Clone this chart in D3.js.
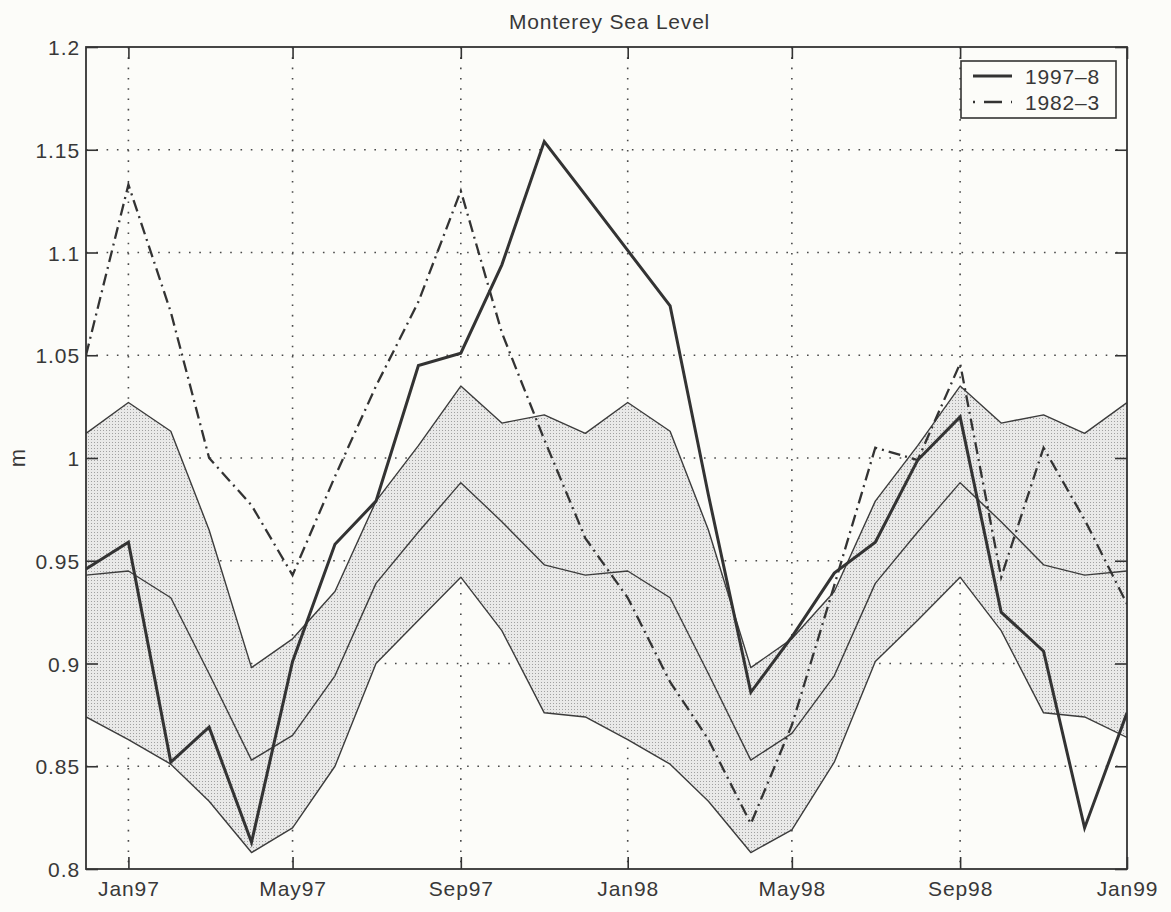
<!DOCTYPE html>
<html>
<head>
<meta charset="utf-8">
<title>Monterey Sea Level</title>
<script src="https://cdn.jsdelivr.net/npm/d3@7"></script>
<style>
  html, body { margin: 0; padding: 0; background: #fcfcf9; }
  svg { display: block; }
  text { font-family: "Liberation Sans", Arial, Helvetica, sans-serif; fill: #383838; }
</style>
</head>
<body>
<svg id="chart" width="1171" height="912"></svg>
<script>
// Monthly sample dates (first of each month)
const months = [
  "1996-12", "1997-01", "1997-02", "1997-03", "1997-04", "1997-05", "1997-06",
  "1997-07", "1997-08", "1997-09", "1997-10", "1997-11", "1997-12",
  "1998-01", "1998-02", "1998-03", "1998-04", "1998-05", "1998-06",
  "1998-07", "1998-08", "1998-09", "1998-10", "1998-11", "1998-12", "1999-01"
];

// Climatological envelope (m): upper bound, mean, lower bound
const climUpper = [
  1.012, 1.027, 1.013, 0.965, 0.898, 0.912, 0.935, 0.979, 1.006, 1.035, 1.017, 1.021, 1.012,
  1.027, 1.013, 0.965, 0.898, 0.912, 0.935, 0.979, 1.006, 1.035, 1.017, 1.021, 1.012, 1.027
];
const climMean = [
  0.943, 0.945, 0.932, 0.895, 0.853, 0.865, 0.894, 0.939, 0.964, 0.988, 0.969, 0.948, 0.943,
  0.945, 0.932, 0.895, 0.853, 0.866, 0.894, 0.939, 0.964, 0.988, 0.969, 0.948, 0.943, 0.945
];
const climLower = [
  0.874, 0.863, 0.851, 0.833, 0.808, 0.820, 0.850, 0.900, 0.921, 0.942, 0.916, 0.876, 0.874,
  0.863, 0.851, 0.833, 0.808, 0.819, 0.852, 0.901, 0.921, 0.942, 0.916, 0.876, 0.874, 0.864
];

// Observed monthly sea level (m)
const level1997 = [
  0.946, 0.959, 0.852, 0.869, 0.813, 0.901, 0.958, 0.979, 1.045, 1.051, 1.094, 1.154, 1.128,
  1.101, 1.074, 0.982, 0.886, 0.913, 0.944, 0.959, 0.999, 1.020, 0.925, 0.906, 0.820, 0.876
];
const level1982 = [
  1.050, 1.133, 1.071, 1.000, 0.977, 0.943, 0.991, 1.035, 1.076, 1.130, 1.061, 1.009, 0.961,
  0.932, 0.891, 0.863, 0.822, 0.870, 0.938, 1.005, 0.999, 1.046, 0.942, 1.005, 0.970, 0.929
];

const seriesNames = ["1997\u20138", "1982\u20133"];

// Axis ticks
const yTicks = [0.8, 0.85, 0.9, 0.95, 1, 1.05, 1.1, 1.15, 1.2];
const yTickLabels = ["0.8", "0.85", "0.9", "0.95", "1", "1.05", "1.1", "1.15", "1.2"];
const xTickMonths = ["1997-01", "1997-05", "1997-09", "1998-01", "1998-05", "1998-09", "1999-01"];
const xTickLabels = ["Jan97", "May97", "Sep97", "Jan98", "May98", "Sep98", "Jan99"];

const parse = d3.utcParse("%Y-%m");
const dates = months.map(parse);
const xTickDates = xTickMonths.map(parse);

const plot = { left: 86, right: 1127, top: 47, bottom: 869 };
const ink = "#333333";
const fontSize = 21;

const svg = d3.select("#chart");

const x = d3.scaleUtc()
  .domain([dates[0], dates[dates.length - 1]])
  .range([plot.left, plot.right]);
const y = d3.scaleLinear()
  .domain([0.8, 1.2])
  .range([plot.bottom, plot.top]);

// Halftone-like stipple for the envelope
const defs = svg.append("defs");
const pat = defs.append("pattern")
  .attr("id", "stipple")
  .attr("patternUnits", "userSpaceOnUse")
  .attr("width", 3).attr("height", 3);
pat.append("rect").attr("width", 3).attr("height", 3).attr("fill", "#e9e9e8");
pat.append("rect").attr("x", 1).attr("y", 1).attr("width", 1).attr("height", 1).attr("fill", "#a0a0a0");

defs.append("clipPath").attr("id", "plotClip")
  .append("rect")
  .attr("x", plot.left).attr("y", plot.top)
  .attr("width", plot.right - plot.left).attr("height", plot.bottom - plot.top);

// Dotted grid
const grid = svg.append("g")
  .attr("stroke", "#4a4a4a")
  .attr("stroke-width", 1.6)
  .attr("stroke-dasharray", "1.6 8.7");
grid.selectAll("line.v")
  .data(xTickDates.filter(d => x(d) > plot.left + 1 && x(d) < plot.right - 1))
  .join("line")
  .attr("class", "v")
  .attr("x1", d => x(d)).attr("x2", d => x(d))
  .attr("y1", plot.top).attr("y2", plot.bottom);
grid.selectAll("line.h")
  .data(yTicks.filter(v => v > 0.8 && v < 1.2))
  .join("line")
  .attr("class", "h")
  .attr("x1", plot.left).attr("x2", plot.right)
  .attr("y1", d => y(d)).attr("y2", d => y(d));

const g = svg.append("g").attr("clip-path", "url(#plotClip)");

// Envelope fill
const area = d3.area()
  .x((d, i) => x(dates[i]))
  .y0((d, i) => y(climLower[i]))
  .y1((d, i) => y(climUpper[i]));
g.append("path")
  .datum(months)
  .attr("d", area)
  .attr("fill", "url(#stipple)");

const line = vals => d3.line()
  .x((d, i) => x(dates[i]))
  .y(d => y(d))(vals);

// Envelope bounds and mean
[climUpper, climMean, climLower].forEach(vals => {
  g.append("path")
    .attr("d", line(vals))
    .attr("fill", "none")
    .attr("stroke", "#3c3c3c")
    .attr("stroke-width", 1.4)
    .attr("stroke-linejoin", "round");
});

// 1982-3 series, dash-dot
g.append("path")
  .attr("d", line(level1982))
  .attr("fill", "none")
  .attr("stroke", ink)
  .attr("stroke-width", 2.3)
  .attr("stroke-dasharray", "12 5 2 5");

// 1997-8 series, heavy solid
g.append("path")
  .attr("d", line(level1997))
  .attr("fill", "none")
  .attr("stroke", ink)
  .attr("stroke-width", 3)
  .attr("stroke-linejoin", "miter");

// Axes with inward ticks on all four sides
const tickLen = 12;
const axB = svg.append("g")
  .attr("transform", `translate(0,${plot.bottom})`)
  .call(d3.axisBottom(x).tickValues(xTickDates)
    .tickFormat((d, i) => xTickLabels[i])
    .tickSizeInner(-tickLen).tickSizeOuter(0).tickPadding(12));
const axT = svg.append("g")
  .attr("transform", `translate(0,${plot.top})`)
  .call(d3.axisTop(x).tickValues(xTickDates).tickFormat("")
    .tickSizeInner(-tickLen).tickSizeOuter(0));
const axL = svg.append("g")
  .attr("transform", `translate(${plot.left},0)`)
  .call(d3.axisLeft(y).tickValues(yTicks)
    .tickFormat((d, i) => yTickLabels[i])
    .tickSizeInner(-tickLen).tickSizeOuter(0).tickPadding(6));
const axR = svg.append("g")
  .attr("transform", `translate(${plot.right},0)`)
  .call(d3.axisRight(y).tickValues(yTicks).tickFormat("")
    .tickSizeInner(-tickLen).tickSizeOuter(0));

[axB, axT, axL, axR].forEach(ax => {
  ax.select(".domain").remove();
  ax.selectAll(".tick line").attr("stroke", ink).attr("stroke-width", 1.6);
  ax.selectAll("text")
    .attr("font-size", fontSize)
    .attr("letter-spacing", "0.9px")
    .attr("fill", "#383838")
    .style("font-family", '"Liberation Sans", Arial, Helvetica, sans-serif');
});
axL.selectAll("text").attr("dy", "0.36em");

// Plot frame
svg.append("rect")
  .attr("x", plot.left).attr("y", plot.top)
  .attr("width", plot.right - plot.left).attr("height", plot.bottom - plot.top)
  .attr("fill", "none").attr("stroke", ink).attr("stroke-width", 1.8);

// Title and y label
svg.append("text")
  .attr("x", (plot.left + plot.right) / 2 + 3)
  .attr("y", 29)
  .attr("text-anchor", "middle")
  .attr("font-size", fontSize)
  .attr("letter-spacing", "0.8px")
  .text("Monterey Sea Level");

svg.append("text")
  .attr("transform", `translate(25,${(plot.top + plot.bottom) / 2}) rotate(-90)`)
  .attr("text-anchor", "middle")
  .attr("font-size", 22)
  .text("m");

// Legend
const legend = svg.append("g");
legend.append("rect")
  .attr("x", 961).attr("y", 61)
  .attr("width", 155).attr("height", 57)
  .attr("fill", "#fcfcf9")
  .attr("stroke", ink).attr("stroke-width", 1.6);
const legendRows = [
  { name: seriesNames[0], width: 3, dash: null, cy: 76 },
  { name: seriesNames[1], width: 2.3, dash: "2 9 18 9 2", cy: 102 }
];
legendRows.forEach(r => {
  const ln = legend.append("line")
    .attr("x1", 973).attr("x2", 1012)
    .attr("y1", r.cy).attr("y2", r.cy)
    .attr("stroke", ink).attr("stroke-width", r.width);
  if (r.dash) ln.attr("stroke-dasharray", r.dash);
  legend.append("text")
    .attr("x", 1025).attr("y", r.cy + 8)
    .attr("font-size", fontSize)
    .attr("letter-spacing", "0.8px")
    .text(r.name);
});
</script>
</body>
</html>
